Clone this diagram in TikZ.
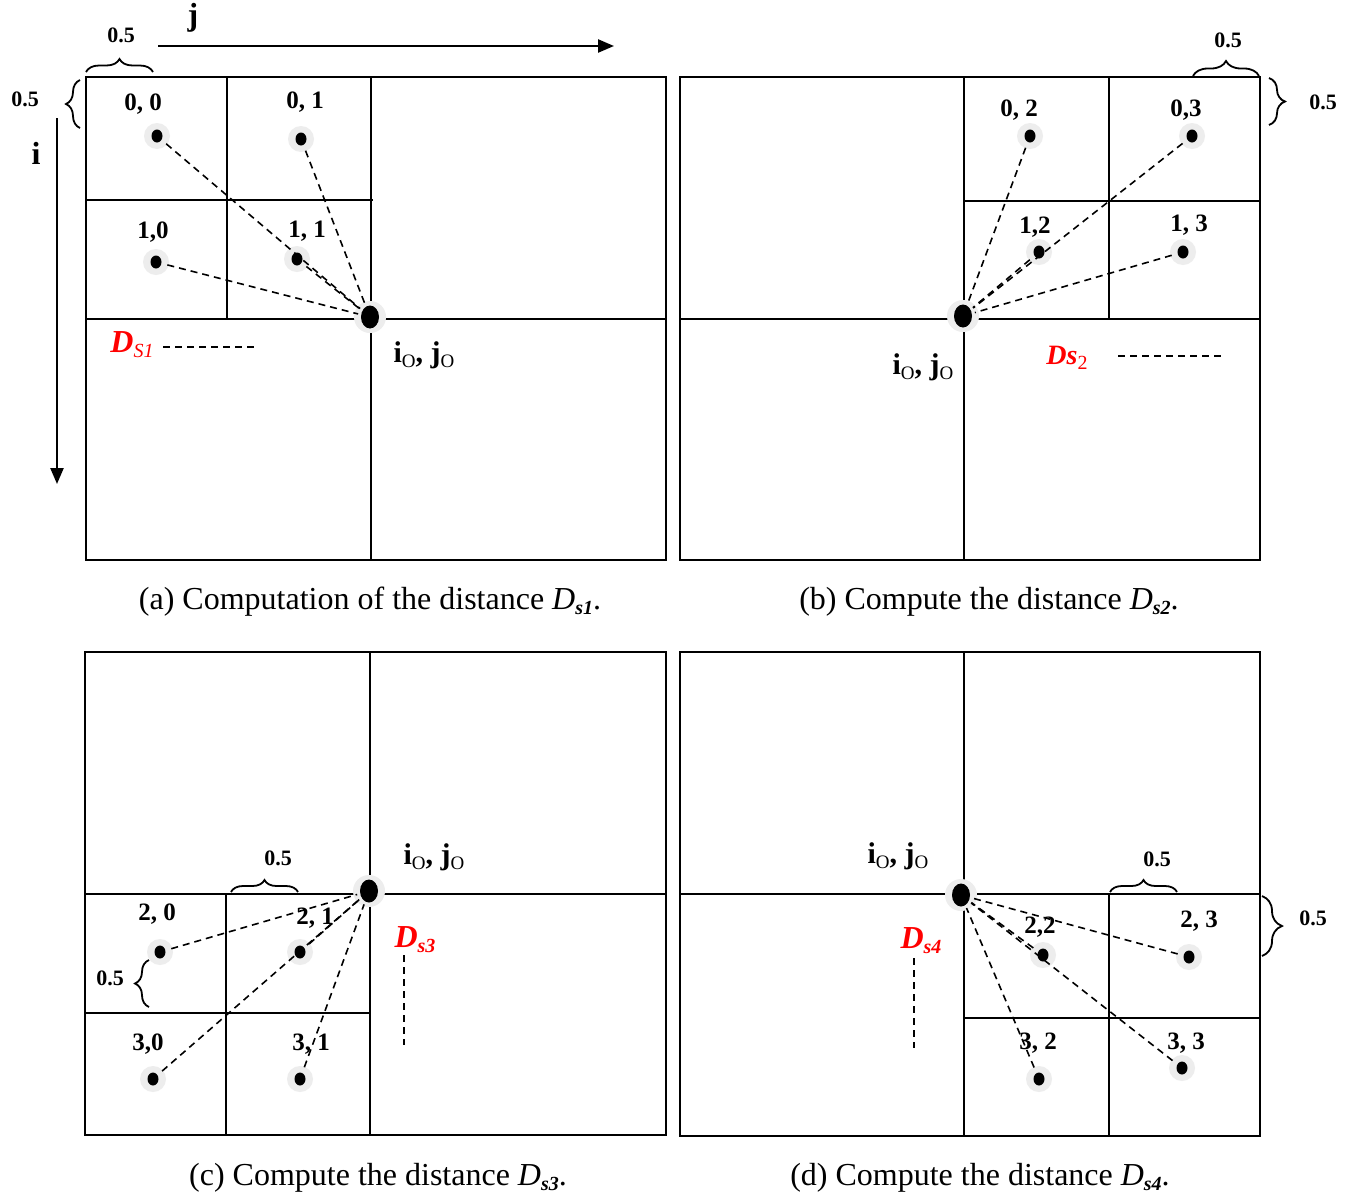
\documentclass[tikz,border=0pt]{standalone}
\usepackage{fontspec}
\setmainfont{Liberation Serif}
\usetikzlibrary{arrows.meta,decorations.pathreplacing,shapes.geometric}
\newcommand\iojo{{\bfseries i}\raisebox{-5pt}{\fontsize{19}{19}\selectfont O}{\bfseries , j}\raisebox{-5pt}{\fontsize{19}{19}\selectfont O}}
\newcommand\subtx[1]{\raisebox{-5pt}{\fontsize{20}{20}\selectfont #1}}
\begin{document}
\begin{tikzpicture}[x=1pt,y=-1pt,
 xfrm/.style={line width=2pt},
 xgrd/.style={line width=1.8pt},
 xhalo/.style={fill=black!7},
 xdot/.style={ellipse,fill=black,inner sep=0pt,minimum width=11pt,minimum height=13pt},
 xcdot/.style={ellipse,fill=black,inner sep=0pt,minimum width=18pt,minimum height=23pt},
 xlink/.style={line width=1.6pt,dash pattern=on 7pt off 5pt,shorten <=6pt,shorten >=3pt},
 xlbl/.style={font=\fontsize{25}{27}\selectfont\bfseries,inner sep=0pt},
 xhalf/.style={font=\fontsize{22}{24}\selectfont\bfseries,inner sep=0pt},
 xioj/.style={font=\fontsize{30}{31}\selectfont,inner sep=0pt},
 xdl/.style={text=red,inner sep=0pt},
 xcap/.style={font=\fontsize{32}{34}\selectfont,inner sep=0pt},
 xbrc/.style={decorate,line width=1.8pt},
 xmk/.style={line width=1.6pt,dash pattern=on 7pt off 5pt},
 xaxis/.style={line width=2.4pt,-{Triangle[length=16pt,width=13pt]}}
]
\useasboundingbox (0,0) rectangle (1354,1197);
\fill[white] (0,0) rectangle (1354,1197);

% ---------------- (a)
\draw[xfrm] (86,77) rectangle (666,560);
\draw[xgrd] (371,77) -- (371,560) (86,319) -- (666,319);
\draw[xgrd] (227,77) -- (227,319) (86,200) -- (373,200);
\foreach \p in {(157,136),(301,139),(156,262),(297,259)} \fill[xhalo] \p circle (13);
\fill[xhalo] (370,317) circle (16);
\node[xdot] (a00) at (157,136) {};
\node[xdot] (a01) at (301,139) {};
\node[xdot] (a10) at (156,262) {};
\node[xdot] (a11) at (297,259) {};
\node[xcdot] (ac) at (370,317) {};
\foreach \n in {a00,a01,a10,a11} \draw[xlink] (\n) -- (ac);
\node[xlbl] (la00) at (143,104) {0, 0};
\node[xlbl] (la01) at (305,102) {0, 1};
\node[xlbl] (la10) at (153,232) {1,0};
\node[xlbl] (la11) at (307,231) {1, 1};
\node[xioj] (laij) at (424,355) {\iojo};
\node[xdl] (lads) at (132,345) {\fontsize{32}{32}\selectfont\bfseries\itshape D\subtx{\mdseries S1}};
\coordinate (am1) at (163,347); \coordinate (am2) at (256,347);
\draw[xmk] (am1) -- (am2);
\node[font=\fontsize{32}{32}\selectfont\bfseries,inner sep=0pt] (lj) at (193,18) {j};
\node[font=\fontsize{32}{32}\selectfont\bfseries,inner sep=0pt] (li) at (36,153) {i};
\draw[xaxis] (158,46) -- (614,46);
\draw[xaxis] (57,118) -- (57,484);
\draw[xbrc,decoration={brace,amplitude=13pt}] (86,72) -- (153,72);
\node[xhalf] (ah1) at (121,35) {0.5};
\draw[xbrc,decoration={brace,amplitude=14pt}] (80,128) -- (80,80);
\node[xhalf] (ah2) at (25,99) {0.5};
\node[xcap] (capa) at (370,602) {(a) Computation of the distance \textit{D}\subtx{\bfseries\itshape s1}.};

% ---------------- (b)
\draw[xfrm] (680,77) rectangle (1260,560);
\draw[xgrd] (964,77) -- (964,560) (680,319) -- (1260,319);
\draw[xgrd] (1109,77) -- (1109,319) (964,201) -- (1260,201);
\foreach \p in {(1030,136),(1192,136),(1039,252),(1183,252)} \fill[xhalo] \p circle (13);
\fill[xhalo] (963,316) circle (16);
\node[xdot] (b02) at (1030,136) {};
\node[xdot] (b03) at (1192,136) {};
\node[xdot] (b12) at (1039,252) {};
\node[xdot] (b13) at (1183,252) {};
\node[xcdot] (bc) at (963,316) {};
\foreach \n in {b02,b03,b12,b13} \draw[xlink] (\n) -- (bc);
\node[xlbl] (lb02) at (1019,110) {0, 2};
\node[xlbl] (lb03) at (1186,110) {0,3};
\node[xlbl] (lb12) at (1035,227) {1,2};
\node[xlbl] (lb13) at (1189,225) {1, 3};
\node[xioj] (lbij) at (923,367) {\iojo};
\node[xdl] (lbds) at (1067,358) {\fontsize{28}{28}\selectfont\bfseries\itshape Ds\subtx{\mdseries\upshape 2}};
\coordinate (bm1) at (1118,356); \coordinate (bm2) at (1223,356);
\draw[xmk] (bm1) -- (bm2);
\draw[xbrc,decoration={brace,amplitude=15pt}] (1193,76) -- (1259,76);
\node[xhalf] (bh1) at (1228,40) {0.5};
\draw[xbrc,decoration={brace,amplitude=16pt}] (1269,78) -- (1269,125);
\node[xhalf] (bh2) at (1323,102) {0.5};
\node[xcap] (capb) at (989,602) {(b) Compute the distance \textit{D}\subtx{\bfseries\itshape s2}.};

% ---------------- (c)
\draw[xfrm] (85,652) rectangle (666,1135);
\draw[xgrd] (370,652) -- (370,1135) (85,894) -- (666,894);
\draw[xgrd] (226,894) -- (226,1135) (85,1013) -- (370,1013);
\foreach \p in {(160,952),(300,952),(153,1079),(300,1079)} \fill[xhalo] \p circle (13);
\fill[xhalo] (369,891) circle (16);
\node[xdot] (c20) at (160,952) {};
\node[xdot] (c21) at (300,952) {};
\node[xdot] (c30) at (153,1079) {};
\node[xdot] (c31) at (300,1079) {};
\node[xcdot] (cc) at (369,891) {};
\foreach \n in {c20,c21,c30,c31} \draw[xlink] (\n) -- (cc);
\node[xlbl] (lc20) at (157,914) {2, 0};
\node[xlbl] (lc21) at (315,918) {2, 1};
\node[xlbl] (lc30) at (148,1044) {3,0};
\node[xlbl] (lc31) at (311,1044) {3, 1};
\node[xioj] (lcij) at (434,857) {\iojo};
\node[xdl] (lcds) at (415,940) {\fontsize{32}{32}\selectfont\bfseries\itshape D\subtx{s3}};
\coordinate (cm1) at (404,955); \coordinate (cm2) at (404,1045);
\draw[xmk] (cm1) -- (cm2);
\draw[xbrc,decoration={brace,amplitude=12pt}] (231,892) -- (298,892);
\node[xhalf] (ch1) at (278,858) {0.5};
\draw[xbrc,decoration={brace,amplitude=14pt}] (149,1007) -- (149,960);
\node[xhalf] (ch2) at (110,978) {0.5};
\node[xcap] (capc) at (378,1178) {(c) Compute the distance \textit{D}\subtx{\bfseries\itshape s3}.};

% ---------------- (d)
\draw[xfrm] (680,652) rectangle (1260,1136);
\draw[xgrd] (964,652) -- (964,1136) (680,894) -- (1260,894);
\draw[xgrd] (1109,894) -- (1109,1136) (964,1018) -- (1260,1018);
\foreach \p in {(1043,955),(1189,957),(1039,1079),(1182,1068)} \fill[xhalo] \p circle (13);
\fill[xhalo] (961,895) circle (16);
\node[xdot] (d22) at (1043,955) {};
\node[xdot] (d23) at (1189,957) {};
\node[xdot] (d32) at (1039,1079) {};
\node[xdot] (d33) at (1182,1068) {};
\node[xcdot] (dc) at (961,895) {};
\foreach \n in {d22,d23,d32,d33} \draw[xlink] (\n) -- (dc);
\node[xlbl] (ld22) at (1040,927) {2,2};
\node[xlbl] (ld23) at (1199,921) {2, 3};
\node[xlbl] (ld32) at (1038,1043) {3, 2};
\node[xlbl] (ld33) at (1186,1043) {3, 3};
\node[xioj] (ldij) at (898,856) {\iojo};
\node[xdl] (ldds) at (921,941) {\fontsize{32}{32}\selectfont\bfseries\itshape D\subtx{s4}};
\coordinate (dm1) at (914,958); \coordinate (dm2) at (914,1048);
\draw[xmk] (dm1) -- (dm2);
\draw[xbrc,decoration={brace,amplitude=12pt}] (1110,892) -- (1177,892);
\node[xhalf] (dh1) at (1157,859) {0.5};
\draw[xbrc,decoration={brace,amplitude=20pt}] (1262,896) -- (1262,956);
\node[xhalf] (dh2) at (1313,918) {0.5};
\node[xcap] (capd) at (980,1178) {(d) Compute the distance \textit{D}\subtx{\bfseries\itshape s4}.};
\end{tikzpicture}
\end{document}
